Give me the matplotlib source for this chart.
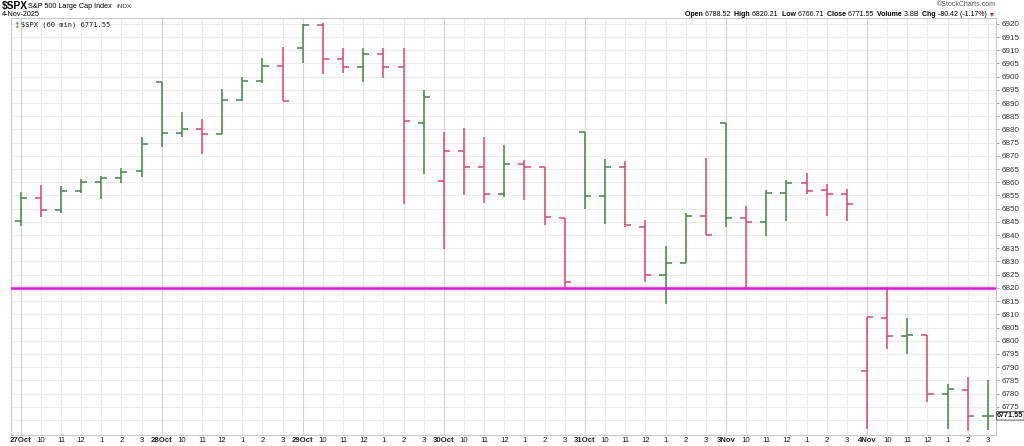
#!/usr/bin/env python3

import matplotlib
matplotlib.use("Agg")
import matplotlib.pyplot as plt
import numpy as np

# hourly OHLC, 27 Oct - 4 Nov 2025 (7 bars a day)
opens = [6845.5, 6854.1, 6849.5, 6856.7, 6860.0, 6861.5, 6864.1,
         6897.9, 6878.7, 6880.1, 6878.2, 6891.1, 6898.3, 6904.2,
         6910.9, 6919.6, 6906.5, 6903.6, 6908.5, 6903.6, 6882.4,
         6860.4, 6872.0, 6865.6, 6855.6, 6866.9, 6865.8, 6846.4,
         6879.2, 6854.8, 6865.7, 6843.2, 6824.7, 6829.5, 6847.4,
         6882.4, 6846.3, 6844.9, 6855.9, 6859.9, 6857.0, 6855.5,
         6788.5, 6808.5, 6801.7, 6802.1, 6779.8, 6781.2, 6771.5]
highs = [6856.4, 6859.0, 6858.6, 6861.3, 6862.4, 6865.3, 6877.2,
         6897.9, 6886.6, 6883.9, 6895.3, 6899.9, 6907.1, 6911.3,
         6920.0, 6920.3, 6911.0, 6911.0, 6910.8, 6911.0, 6895.0,
         6879.2, 6880.7, 6877.1, 6874.0, 6868.4, 6865.8, 6846.4,
         6879.2, 6868.9, 6868.2, 6845.8, 6835.9, 6848.3, 6869.1,
         6882.4, 6850.9, 6857.1, 6860.8, 6863.4, 6859.4, 6857.4,
         6809.0, 6820.2, 6808.5, 6802.1, 6783.6, 6786.3, 6785.2]
lows = [6843.6, 6846.8, 6848.3, 6856.1, 6853.8, 6859.8, 6861.9,
        6873.5, 6877.3, 6870.6, 6878.2, 6890.8, 6897.5, 6890.7,
        6905.1, 6901.1, 6901.3, 6898.1, 6899.4, 6851.8, 6863.3,
        6834.7, 6855.0, 6852.3, 6854.6, 6853.1, 6843.9, 6820.5,
        6850.0, 6844.1, 6843.2, 6822.4, 6813.8, 6829.4, 6840.0,
        6843.1, 6820.1, 6839.8, 6845.5, 6855.5, 6847.4, 6845.3,
        6766.7, 6797.0, 6795.0, 6776.9, 6766.5, 6765.8, 6766.1]
closes = [6854.1, 6849.5, 6856.7, 6860.0, 6861.5, 6863.9, 6874.4,
          6878.7, 6880.1, 6878.2, 6891.1, 6898.3, 6904.2, 6890.7,
          6919.6, 6906.5, 6903.6, 6908.5, 6903.6, 6883.1, 6892.1,
          6872.0, 6865.8, 6855.6, 6866.9, 6865.8, 6846.8, 6822.2,
          6854.8, 6865.7, 6843.7, 6824.9, 6829.4, 6847.2, 6840.0,
          6846.4, 6844.9, 6856.1, 6859.9, 6856.7, 6855.5, 6851.9,
          6809.0, 6801.7, 6802.1, 6780.0, 6781.6, 6771.5, 6771.55]

days = ["27Oct", "28Oct", "29Oct", "30Oct", "31Oct", "3Nov", "4Nov"]
hours = ["10", "11", "12", "1", "2", "3"]
support = 6820
last = 6771.55

GREEN = "#3f8a3f"
RED = "#e0456c"
W, H = 1024, 446

fig = plt.figure(figsize=(W / 100, H / 100), dpi=100)
plt.rcParams["font.family"] = ["Liberation Sans", "DejaVu Sans"]

# plot area in pixels: x 11..996, y 18..435
ax = fig.add_axes([11 / W, (H - 435) / H, 985 / W, 417 / H])

n = len(closes)
x = np.arange(n)
o, h, l, c = map(np.array, (opens, highs, lows, closes))
prev = np.r_[o[0], c[:-1]]
cols = [GREEN if ci >= pi else RED for ci, pi in zip(c, prev)]

ax.vlines(x, l, h, colors=cols, lw=1.1, zorder=3)
ax.hlines(o, x - 0.3, x, colors=cols, lw=1.1, zorder=3)
ax.hlines(c, x, x + 0.3, colors=cols, lw=1.1, zorder=3)

ax.axhline(support, color="#ff00ff", lw=1.8, zorder=4)

ax.set_xlim(-0.48, n - 0.6)
ax.set_ylim(6764.3, 6922.2)

# grid
for yv in np.arange(6770, 6925, 5):
    ax.axhline(yv, color="#ececec", lw=0.8, zorder=0)
for i in range(n):
    ax.axvline(i, color="#d4d4d4" if i % 7 == 0 else "#ececec", lw=0.8, zorder=0)

ax.yaxis.tick_right()
ax.set_yticks(np.arange(6775, 6925, 5))
ax.set_yticklabels([str(v) for v in range(6775, 6925, 5)], fontsize=5.8, color="#333333")
ax.tick_params(axis="y", length=2, width=0.6, pad=2, color="#999999")

ticks = list(range(n))
labels = []
for d in days:
    labels += [d] + hours
ax.set_xticks(ticks)
ax.set_xticklabels(labels, fontsize=5.6, color="#222222")
for t, lab in zip(ax.get_xticklabels(), labels):
    if lab in days:
        t.set_fontweight("bold")
ax.tick_params(axis="x", length=0, pad=1.5)

for s in ax.spines.values():
    s.set_color("#c8c8c8")
    s.set_linewidth(0.8)

# last price box
ax.annotate(f"{last:.2f}", xy=(1.0, last), xycoords=("axes fraction", "data"),
            xytext=(0.8, 0), textcoords="offset points", va="center", ha="left",
            fontsize=5.2, fontweight="bold", color="#111111",
            bbox=dict(boxstyle="round,pad=0.1", fc="white", ec="#444444", lw=0.6),
            annotation_clip=False, zorder=6)

# legend inside plot
ax.text(0.002, 0.992, "\u2195", transform=ax.transAxes, fontsize=5.5, color=GREEN,
        va="top", ha="left", family="DejaVu Sans")
ax.text(0.010, 0.992, "$SPX (60 min) 6771.55", transform=ax.transAxes,
        fontsize=5.0, va="top", ha="left", family="DejaVu Sans Mono", color="#222222")


def px(xp, yp):
    return xp / W, 1 - yp / H


# header left
fig.text(*px(2, 6), "$SPX", fontsize=7.4, fontweight="bold", va="center", ha="left")
fig.text(*px(28, 6), "S&P 500 Large Cap Index", fontsize=5.2, va="center", ha="left")
fig.text(*px(116, 6), "INDX", fontsize=4.6, va="center", ha="left", color="#333333")
fig.text(*px(2, 14), "4-Nov-2025", fontsize=5.2, va="center", ha="left")

# header right
fig.text(*px(996, 4), "\u00a9StockCharts.com", fontsize=5.0, va="center", ha="right",
         color="#555555")

parts = [("Open ", True), ("6788.52  ", False), ("High ", True), ("6820.21  ", False),
         ("Low ", True), ("6766.71  ", False), ("Close ", True), ("6771.55  ", False),
         ("Volume ", True), ("3.8B  ", False), ("Chg ", True), ("-80.42 (-1.17%) ", False)]
fig.canvas.draw()
r = fig.canvas.get_renderer()
objs = []
for s, b in parts:
    t = fig.text(0, 1 - 14 / H, s, fontsize=5.0, fontweight="bold" if b else "normal",
                 va="center", ha="left")
    objs.append(t)
widths = [t.get_window_extent(r).width for t in objs]
xs = 989 - sum(widths)
for t, w in zip(objs, widths):
    t.set_x(xs / W)
    xs += w
fig.text(*px(990, 14), "\u25be", fontsize=5.5, color="#d0103a", va="center", ha="left",
         family="DejaVu Sans")

fig.savefig("out.png", dpi=100)
